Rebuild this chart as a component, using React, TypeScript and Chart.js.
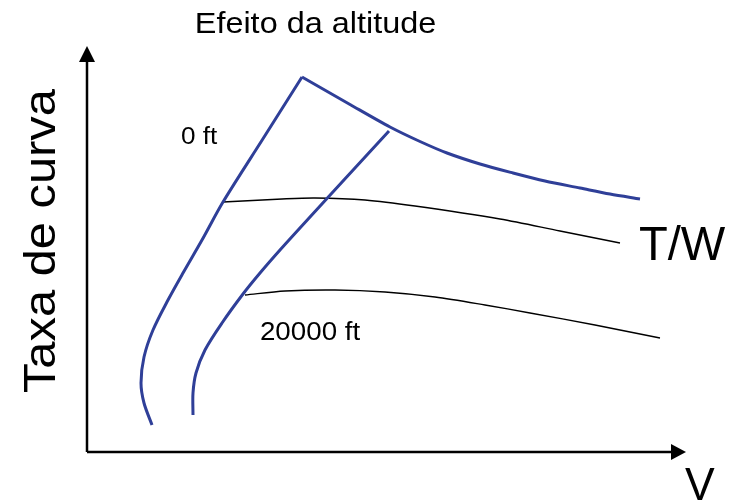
import React, { useEffect, useRef } from "react";
import { Chart, registerables } from "chart.js";

Chart.register(...registerables);

// Values in arbitrary units: V (x) and turn rate (y)
const curve0Rise_V = [6.5, 5.7, 5.4, 5.7, 6.6, 8.1, 9.6, 11.5, 13.6, 17.55, 21.5];
const curve0Rise_T = [2.7, 4.9, 6.9, 9.5, 12.2, 15.2, 17.9, 21.2, 25.0, 31.25, 37.5];

const limit_V = [21.5, 26.3, 30.3, 33.3, 36.0, 39.3, 42.6, 45.8, 49.3, 52.3, 55.3];
const limit_T = [37.5, 34.75, 32.5, 31.05, 29.9, 28.8, 27.9, 27.1, 26.4, 25.8, 25.3];

const curve20Rise_V = [10.6, 10.6, 10.9, 11.8, 13.5, 15.6, 17.3, 19.3, 22.3, 25.6, 30.2];
const curve20Rise_T = [3.7, 5.9, 7.9, 10.2, 12.9, 15.8, 17.9, 20.2, 23.5, 27.1, 32.1];

const tw0_V = [13.6, 19.5, 22.8, 27.8, 32.8, 41.3, 47.3, 53.3];
const tw0_T = [25.0, 25.3, 25.4, 25.2, 24.6, 23.3, 22.1, 20.9];

const tw20_V = [15.8, 19.8, 24.8, 29.8, 34.8, 39.8, 44.3, 50.8, 57.3];
const tw20_T = [15.7, 16.1, 16.2, 16.0, 15.5, 14.7, 13.9, 12.7, 11.4];

const axisV_max = 59.9;
const axisT_max = 40.6;

const titleText = "Efeito da altitude";
const yAxisLabel = "Taxa de curva";
const xAxisLabel = "V";
const twLabel = "T/W";
const alt0Label = "0 ft";
const alt20Label = "20000 ft";

const BLUE = "#2f3f98";

const pts = (xs: number[], ys: number[]) => xs.map((x, i) => ({ x, y: ys[i] }));

export default function App() {
  const ref = useRef<HTMLCanvasElement | null>(null);

  useEffect(() => {
    if (!ref.current) return;

    const drawText = (
      ctx: CanvasRenderingContext2D,
      text: string,
      x: number,
      y: number,
      size: number,
      width: number,
      align: "left" | "center",
      rotate = 0
    ) => {
      ctx.save();
      ctx.font = `${size}px "Liberation Sans", Arial, sans-serif`;
      ctx.fillStyle = "#000";
      ctx.textBaseline = "alphabetic";
      const m = ctx.measureText(text);
      const w = m.actualBoundingBoxRight + m.actualBoundingBoxLeft;
      const sx = width / w;
      ctx.translate(x, y);
      if (rotate) ctx.rotate(rotate);
      ctx.scale(sx, 1);
      ctx.textAlign = "left";
      const startX = align === "center" ? -w / 2 : 0;
      ctx.fillText(text, startX + m.actualBoundingBoxLeft, 0);
      ctx.restore();
    };

    const decor = {
      id: "decor",
      beforeDatasetsDraw(chart: any) {
        const ctx = chart.ctx as CanvasRenderingContext2D;
        const xs = chart.scales.x;
        const ys = chart.scales.y;
        const ox = xs.getPixelForValue(0);
        const oy = ys.getPixelForValue(0);
        const yt = ys.getPixelForValue(axisT_max);
        const xt = xs.getPixelForValue(axisV_max);
        ctx.save();
        ctx.strokeStyle = "#000";
        ctx.fillStyle = "#000";
        ctx.lineWidth = 2.5;
        ctx.beginPath();
        ctx.moveTo(ox, oy);
        ctx.lineTo(ox, yt + 12);
        ctx.moveTo(ox, oy);
        ctx.lineTo(xt - 12, oy);
        ctx.stroke();
        ctx.beginPath();
        ctx.moveTo(ox, yt);
        ctx.lineTo(ox - 8, yt + 16);
        ctx.lineTo(ox + 8, yt + 16);
        ctx.closePath();
        ctx.fill();
        ctx.beginPath();
        ctx.moveTo(xt, oy);
        ctx.lineTo(xt - 15, oy - 8);
        ctx.lineTo(xt - 15, oy + 8);
        ctx.closePath();
        ctx.fill();
        ctx.restore();
      },
      afterDraw(chart: any) {
        const ctx = chart.ctx as CanvasRenderingContext2D;
        drawText(ctx, titleText, 316, 33, 29, 238, "center");
        drawText(ctx, yAxisLabel, 55, 240, 45, 304, "center", -Math.PI / 2);
        drawText(ctx, xAxisLabel, 685, 500, 46, 30, "left");
        drawText(ctx, twLabel, 640, 260, 48, 86, "left");
        drawText(ctx, alt0Label, 181, 144, 23, 37, "left");
        drawText(ctx, alt20Label, 261, 340, 26, 100, "left");
      },
    };

    const blue = { borderColor: BLUE, borderWidth: 3, pointRadius: 0, showLine: true, tension: 0.3, fill: false };
    const black = { borderColor: "#000", borderWidth: 1.4, pointRadius: 0, showLine: true, tension: 0.3, fill: false };

    const chart = new Chart(ref.current, {
      type: "scatter",
      data: {
        datasets: [
          { ...blue, data: pts(curve0Rise_V, curve0Rise_T) },
          { ...blue, data: pts(limit_V, limit_T) },
          { ...blue, data: pts(curve20Rise_V, curve20Rise_T) },
          { ...black, data: pts(tw0_V, tw0_T) },
          { ...black, data: pts(tw20_V, tw20_T) },
        ],
      },
      options: {
        responsive: false,
        animation: false,
        devicePixelRatio: 1,
        layout: { padding: 0 },
        plugins: { legend: { display: false }, tooltip: { enabled: false }, title: { display: false } },
        scales: {
          x: { type: "linear", display: false, min: -8.7, max: 64.4 },
          y: { type: "linear", display: false, min: -5, max: 45.2 },
        },
      },
      plugins: [decor],
    });
    return () => chart.destroy();
  }, []);

  return (
    <div style={{ position: "absolute", left: 0, top: 0, width: 731, height: 502, background: "#fff" }}>
      <canvas ref={ref} width={731} height={502} />
    </div>
  );
}
